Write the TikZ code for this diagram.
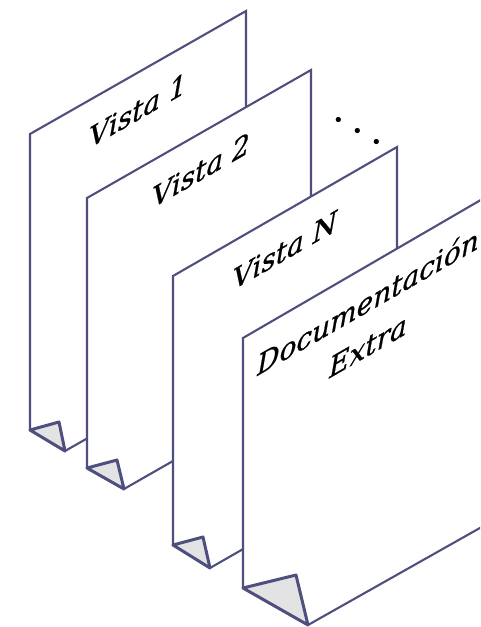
\documentclass[tikz,border=0pt]{standalone}
\usepackage{fontspec}
\setmainfont{DejaVu Serif}
\newfontfamily\lblfont{DejaVu Serif}[FakeBold=0.7]
\definecolor{edge}{HTML}{4F4F7F}
\definecolor{flapfill}{HTML}{E3E3E3}
\tikzset{
  page/.style={draw=edge, fill=white, line width=2.1pt, line join=miter},
  flap/.style={draw=edge, fill=flapfill, line width=3pt, line join=round},
  lbl/.style={yslant=0.577, font=\lblfont\fontsize{28}{44}\selectfont\itshape, align=center, inner sep=0pt}
}
\begin{document}
\begin{tikzpicture}[x=1pt,y=-1pt]
\useasboundingbox (0,0) rectangle (480,627);
\clip (0,0) rectangle (480,627);
% page 1
\draw[page] (30,430) -- (30,134) -- (246,11) -- (246,348) -- (65,451) -- cycle;
\draw[flap] (30,430) -- (59,422) -- (65,451) -- cycle;
\node[lbl] (v1) at (138,110) {Vista 1};
% page 2
\draw[page] (87,468) -- (87,198) -- (311,70) -- (311,382) -- (124,489) -- cycle;
\draw[flap] (87,468) -- (117,460) -- (124,489) -- cycle;
\node[lbl] (v2) at (201,170) {Vista 2};
% dots
\node[rotate=-30, font=\fontsize{28}{28}\selectfont\bfseries, inner sep=0pt] (dots) at (358,131) {.\hspace{12.5pt}.\hspace{12.5pt}.};
% page 3
\draw[page] (173,545) -- (173,276) -- (397,147) -- (397,461) -- (210,568) -- cycle;
\draw[flap] (173,545) -- (203,537) -- (210,568) -- cycle;
\node[lbl] (vn) at (285,250) {Vista N};
% page 4
\draw[page] (243,588) -- (243,338) -- (510,183) -- (510,511) -- (308,625) -- cycle;
\draw[flap] (243,588) -- (296,575) -- (308,625) -- cycle;
\node[lbl] (doc) at (368,323) {Documentación\\Extra};
\end{tikzpicture}
\end{document}
